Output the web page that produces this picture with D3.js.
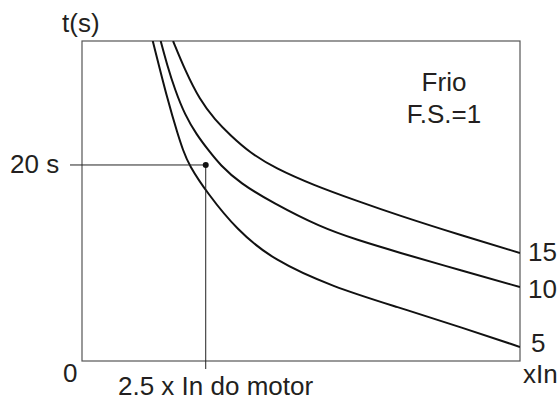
<!DOCTYPE html>
<html>
<head>
<meta charset="utf-8">
<script src="https://cdn.jsdelivr.net/npm/d3@7"></script>
<style>
  body { margin: 0; background: #fff; }
  text { font-family: "Liberation Sans", Arial, sans-serif; font-size: 26px; fill: #231f20; }
</style>
</head>
<body>
<div id="chart"></div>
<script>
// curve names (times In) and points: [x multiple of In, t in s]
const curveNames = ['5', '10', '15'];
const curve5 = [[1.43, 32.65], [1.74, 26.43], [1.94, 23.06], [2.04, 21.53], [2.16, 20.0], [2.53, 17.14],
  [3.13, 13.37], [3.86, 10.31], [5.07, 7.55], [6.37, 5.51], [7.70, 3.37], [8.85, 1.43]];
const curve10 = [[1.59, 32.65], [1.72, 30.2], [1.88, 27.65], [2.08, 25.1], [2.32, 23.06], [2.55, 21.53],
  [2.79, 20.0], [3.19, 18.16], [3.86, 16.12], [4.81, 13.67], [5.56, 12.35], [6.37, 11.12], [7.70, 9.18],
  [8.85, 7.55]];
const curve15 = [[1.84, 32.65], [2.08, 29.69], [2.38, 26.63], [2.69, 24.59], [2.99, 23.06], [3.40, 21.22],
  [3.90, 19.69], [4.67, 17.96], [5.56, 16.33], [6.37, 14.9], [7.70, 12.76], [8.85, 11.02]];
const curves = [curve5, curve10, curve15];

const xMax = 8.85, yMax = 32.65;
const marker = [2.5, 20]; // 2.5 x In, 20 s

const margin = { top: 41, right: 38, bottom: 39, left: 82 },
  width = 558 - margin.left - margin.right,
  height = 400 - margin.top - margin.bottom;

const svg = d3.select('#chart')
  .append('svg')
  .attr('width', 558)
  .attr('height', 400)
  .append('g')
  .attr('transform', 'translate(' + margin.left + ',' + margin.top + ')');

const x = d3.scaleLinear().domain([0, xMax]).range([0, width]);
const y = d3.scaleLinear().domain([0, yMax]).range([height, 0]);

svg.append('clipPath').attr('id', 'clip')
  .append('rect').attr('width', width).attr('height', height);

// frame
svg.append('rect')
  .attr('width', width)
  .attr('height', height)
  .attr('fill', 'none')
  .attr('stroke', '#555')
  .attr('stroke-width', 1.2);

const line = d3.line()
  .x(d => x(d[0]))
  .y(d => y(d[1]))
  .curve(d3.curveBasis);

svg.append('g')
  .attr('clip-path', 'url(#clip)')
  .selectAll('path')
  .data(curves)
  .enter()
  .append('path')
  .attr('d', line)
  .attr('fill', 'none')
  .attr('stroke', '#111')
  .attr('stroke-width', 2);

// 20 s guide line and 2.5 x In drop line
svg.append('line')
  .attr('x1', -12).attr('x2', x(marker[0]))
  .attr('y1', y(marker[1])).attr('y2', y(marker[1]))
  .attr('stroke', '#222').attr('stroke-width', 1);
svg.append('line')
  .attr('x1', x(marker[0])).attr('x2', x(marker[0]))
  .attr('y1', y(marker[1])).attr('y2', height + 8)
  .attr('stroke', '#222').attr('stroke-width', 1);
svg.append('circle')
  .attr('cx', x(marker[0])).attr('cy', y(marker[1]))
  .attr('r', 3).attr('fill', '#111');

// curve labels at the right end
const labelDy = { '5': 5, '10': 11, '15': 8 };
svg.selectAll('.clabel')
  .data(curves)
  .enter()
  .append('text')
  .attr('class', 'clabel')
  .attr('x', (d, i) => width + (curveNames[i] === '5' ? 11 : 8))
  .attr('y', (d, i) => y(d[d.length - 1][1]) + labelDy[curveNames[i]])
  .text((d, i) => curveNames[i]);

// axis texts
svg.append('text').attr('x', -20).attr('y', -9.5).text('t(s)');
svg.append('text').attr('x', -72).attr('y', y(marker[1]) + 8).text('20 s');
svg.append('text').attr('x', -19).attr('y', height + 21).text('0');
svg.append('text').attr('x', width + 3).attr('y', height + 22).text('xIn');
svg.append('text').attr('x', 36).attr('y', height + 34).text('2.5 x In do motor');

svg.append('text').attr('x', 362).attr('y', 50).style('text-anchor', 'middle').text('Frio');
svg.append('text').attr('x', 362).attr('y', 82).style('text-anchor', 'middle').text('F.S.=1');
</script>
</body>
</html>
